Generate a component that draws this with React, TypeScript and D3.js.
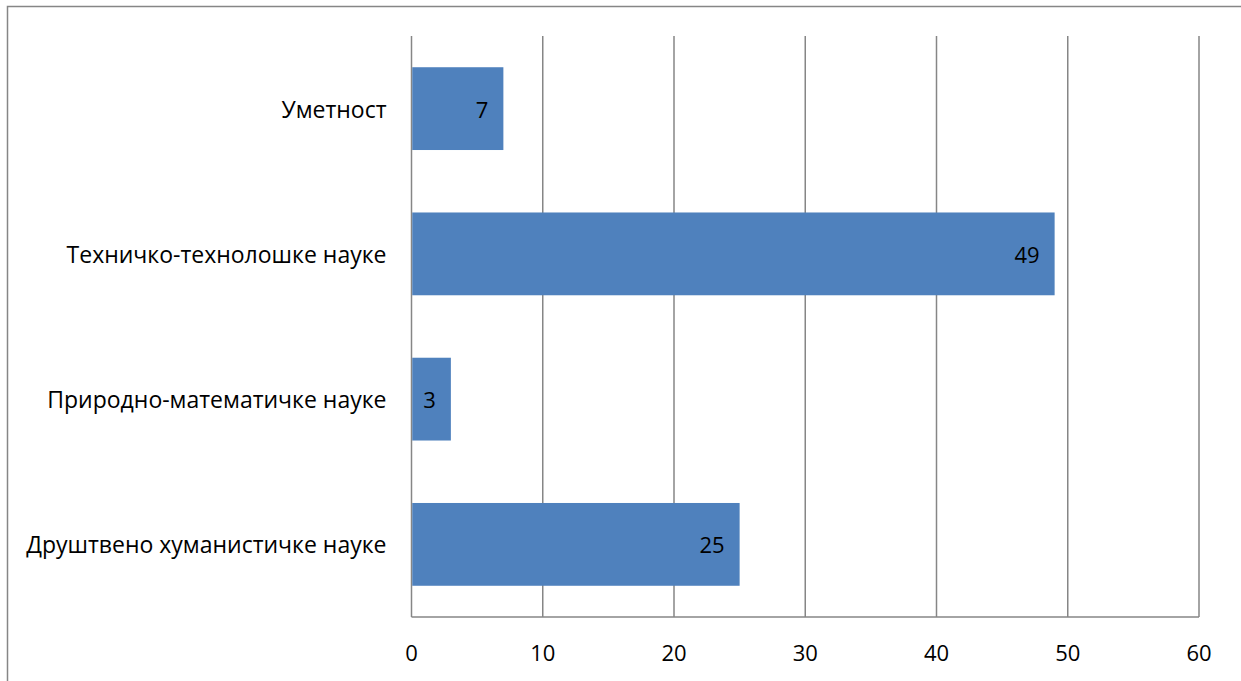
import React from "react";
import * as d3 from "d3";

const categories = [
  "Уметност",
  "Техничко-технолошке науке",
  "Природно-математичке науке",
  "Друштвено хуманистичке науке",
];
const values = [7, 49, 3, 25];
const xTicks = [0, 10, 20, 30, 40, 50, 60];

const W = 1241;
const H = 681;
const left = 411.5;
const right = 1199;
const top = 36;
const bottom = 617;
const FONT = "'Open Sans', 'Noto Sans', sans-serif";
const FS = 23;

export default function App() {
  const x = d3.scaleLinear().domain([0, 60]).range([left, right]);
  const y = d3
    .scaleBand<string>()
    .domain(categories)
    .range([top, bottom])
    .paddingInner(0.43)
    .paddingOuter(0.215);
  const grid = "#868686";

  return (
    <svg
      width={W}
      height={H}
      style={{ position: "absolute", left: 0, top: 0, background: "#fff" }}
      fontFamily={FONT}
    >
      <rect x={7.5} y={6.5} width={W + 10} height={H + 10} fill="#fff" stroke={grid} strokeWidth={1.5} />
      {xTicks.map((t) => (
        <line key={t} x1={x(t)} x2={x(t)} y1={top} y2={bottom} stroke={grid} strokeWidth={1.5} />
      ))}
      <line x1={left} x2={right} y1={bottom} y2={bottom} stroke={grid} strokeWidth={1.5} />
      {categories.map((c, i) => (
        <g key={c}>
          <rect
            x={x(0) + 0.75}
            y={y(c)!}
            width={x(values[i]) - x(0) - 0.75}
            height={y.bandwidth()}
            fill="#4F81BD"
          />
          <text
            x={x(values[i]) - 15}
            y={y(c)! + y.bandwidth() / 2}
            textAnchor="end"
            dominantBaseline="central"
            fontSize={FS - 1}
            fill="#000"
          >
            {values[i]}
          </text>
          <text
            x={left - 25}
            y={y(c)! + y.bandwidth() / 2}
            textAnchor="end"
            dominantBaseline="central"
            fontSize={FS}
            fill="#000"
          >
            {c}
          </text>
        </g>
      ))}
      {xTicks.map((t) => (
        <text
          key={t}
          x={x(t)}
          y={652}
          textAnchor="middle"
          dominantBaseline="central"
          fontSize={FS - 1}
          fill="#000"
        >
          {t}
        </text>
      ))}
    </svg>
  );
}
